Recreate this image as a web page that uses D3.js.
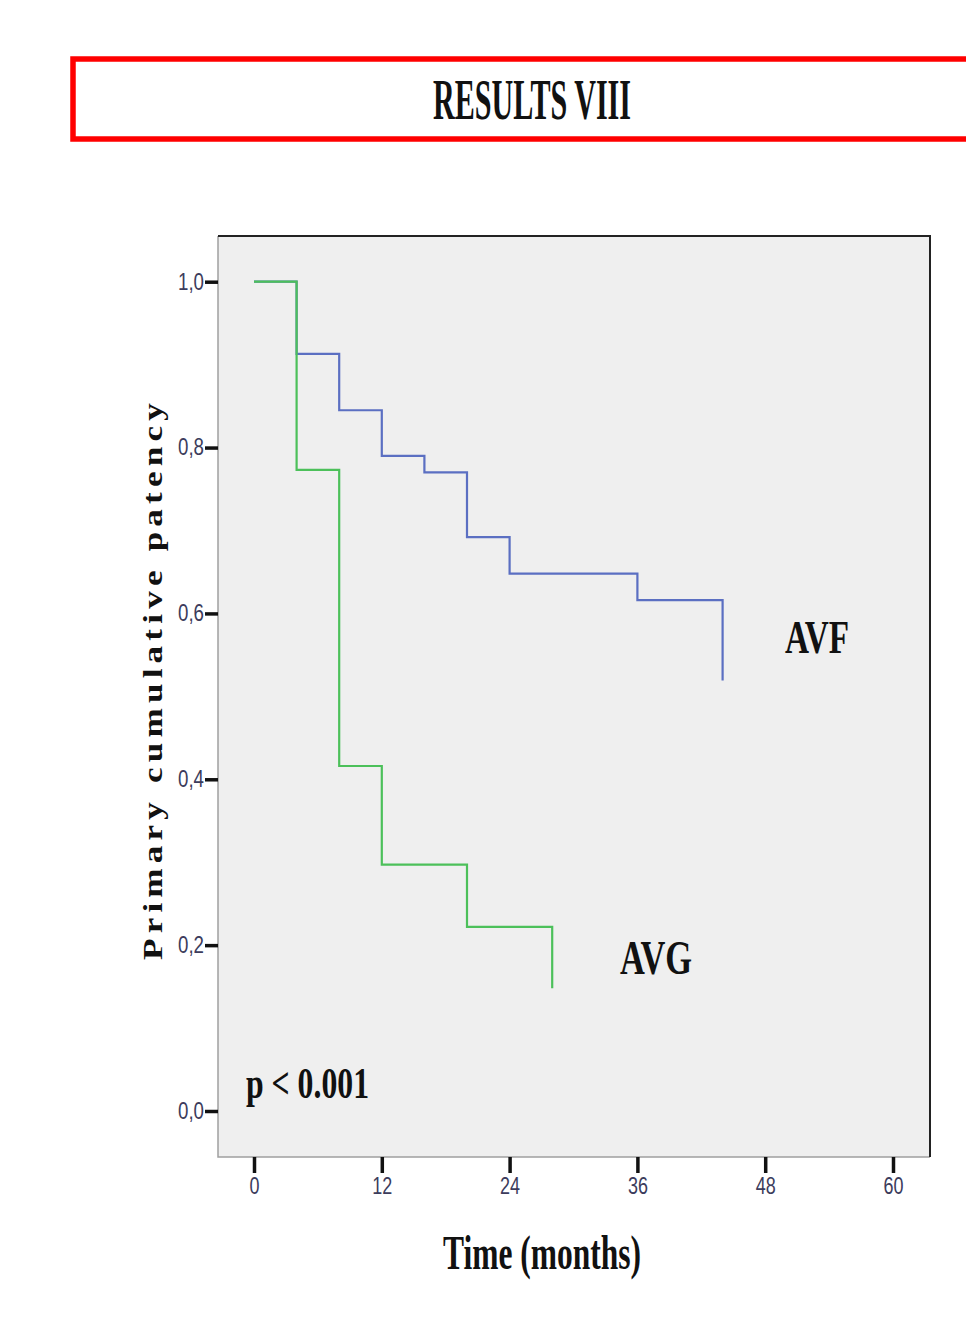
<!DOCTYPE html>
<html>
<head>
<meta charset="utf-8">
<script src="https://cdn.jsdelivr.net/npm/d3@7"></script>
<style>
  body { margin: 0; background: #ffffff; }
  svg { display: block; }
</style>
</head>
<body>
<svg id="chart" width="966" height="1329"></svg>
<script>
// Kaplan-Meier steps (months, cumulative patency)
var avfMonths = [0, 4, 8, 12, 16, 20, 24, 36, 44];
var avfPatency = [1.0, 0.913, 0.845, 0.79, 0.77, 0.692, 0.648, 0.616, 0.519];
var avgMonths = [0, 4, 8, 12, 20, 28];
var avgPatency = [1.0, 0.773, 0.416, 0.297, 0.222, 0.148];

var xTicks = [0, 12, 24, 36, 48, 60];
var yTicks = [0, 0.2, 0.4, 0.6, 0.8, 1.0];

var titleText = "RESULTS VIII";
var yLabelText = "Primary cumulative patency";
var xLabelText = "Time (months)";
var pText = "p < 0.001";

function toPoints(months, vals) {
    var out = [];
    for (var i = 0; i < months.length; i++) {
        out.push({ m: months[i], v: vals[i] });
    }
    return out;
}

var svg = d3.select('#chart');

// title box
svg.append('rect')
    .attr('x', 73).attr('y', 59)
    .attr('width', 920).attr('height', 80)
    .attr('fill', 'none')
    .attr('stroke', '#ff0000')
    .attr('stroke-width', 5.5);

svg.append('text')
    .attr('x', 433).attr('y', 119)
    .attr('font-family', 'Liberation Serif')
    .attr('font-weight', 'bold')
    .attr('font-size', 56)
    .attr('textLength', 198)
    .attr('lengthAdjust', 'spacingAndGlyphs')
    .attr('fill', '#111')
    .text(titleText);

// plot area (note: "top" is taken by window.top, so use other names)
var plotL = 218, plotT = 236, plotR = 930, plotB = 1157;

svg.append('rect')
    .attr('x', plotL).attr('y', plotT)
    .attr('width', plotR - plotL).attr('height', plotB - plotT)
    .attr('fill', '#efefef');

let xScale = d3.scaleLinear().domain([0, 60]).range([254, 893]);
let yScale = d3.scaleLinear().domain([0, 1]).range([1111, 281.7]);

// frame: left/bottom grey, top/right dark
svg.append('path')
    .attr('d', 'M' + plotL + ',' + plotT + 'V' + plotB + 'H' + plotR)
    .attr('fill', 'none').attr('stroke', '#a0a0a0').attr('stroke-width', 1.5);
svg.append('path')
    .attr('d', 'M' + plotL + ',' + plotT + 'H' + plotR + 'V' + plotB)
    .attr('fill', 'none').attr('stroke', '#222').attr('stroke-width', 2);

let axisLeft = d3.axisLeft(yScale)
    .tickValues(yTicks)
    .tickSize(13)
    .tickPadding(1)
    .tickFormat(d => d3.format('.1f')(d).replace('.', ','));

let axisBottom = d3.axisBottom(xScale)
    .tickValues(xTicks)
    .tickSize(16)
    .tickPadding(5);

const gy = svg.append('g').attr('transform', 'translate(' + plotL + ',0)').call(axisLeft);
const gx = svg.append('g').attr('transform', 'translate(0,' + plotB + ')').call(axisBottom);

[gy, gx].forEach(function (g) {
    g.select('.domain').remove();
    g.selectAll('.tick line').attr('stroke', '#111').attr('stroke-width', 3.5);
    g.selectAll('.tick text')
        .attr('font-family', 'Liberation Sans')
        .attr('font-size', 23)
        .attr('fill', '#3c3c5c')
        .attr('lengthAdjust', 'spacingAndGlyphs');
});
gy.selectAll('.tick text').attr('textLength', 26);
gx.selectAll('.tick text').attr('textLength', d => String(d).length * 10);

// survival curves
var line = d3.line()
    .x(d => xScale(d.m))
    .y(d => yScale(d.v))
    .curve(d3.curveStepAfter);

svg.append('path')
    .datum(toPoints(avfMonths, avfPatency))
    .attr('d', line)
    .attr('fill', 'none')
    .attr('stroke', '#5b6fc2')
    .attr('stroke-width', 2.2);

svg.append('path')
    .datum(toPoints(avgMonths, avgPatency))
    .attr('d', line)
    .attr('fill', 'none')
    .attr('stroke', '#4cc05a')
    .attr('stroke-width', 2.2);

// in-plot labels
function serifLabel(x, y, size, len, txt) {
    return svg.append('text')
        .attr('x', x).attr('y', y)
        .attr('font-family', 'Liberation Serif')
        .attr('font-weight', 'bold')
        .attr('font-size', size)
        .attr('textLength', len)
        .attr('lengthAdjust', 'spacingAndGlyphs')
        .attr('fill', '#111')
        .text(txt);
}

serifLabel(785, 653, 47, 64, 'AVF');
serifLabel(620, 974, 48, 72, 'AVG');
serifLabel(246, 1098, 45, 123, pText);
serifLabel(443, 1269, 48, 198, xLabelText);

// y axis title
svg.append('text')
    .attr('transform', 'translate(162,960) rotate(-90)')
    .attr('font-family', 'Liberation Serif')
    .attr('font-weight', 'bold')
    .attr('font-size', 27)
    .attr('letter-spacing', 4)
    .attr('textLength', 562)
    .attr('lengthAdjust', 'spacingAndGlyphs')
    .attr('fill', '#111')
    .text(yLabelText);
</script>
</body>
</html>
